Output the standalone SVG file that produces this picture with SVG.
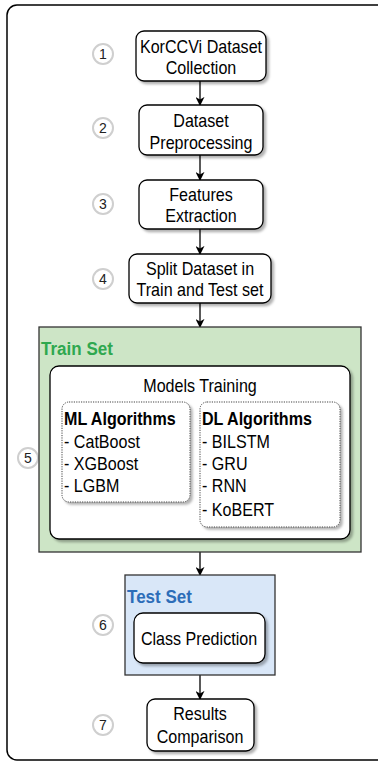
<svg xmlns="http://www.w3.org/2000/svg" width="378" height="761" viewBox="0 0 378 761">
<defs>
<style>
.box{fill:#fff;stroke:#000;stroke-width:1.3;filter:url(#sh)}
.t{font-family:"Liberation Sans",Arial,sans-serif;font-size:17.5px;fill:#000}
.b{font-weight:bold}
.num{font-family:"Liberation Sans",Arial,sans-serif;font-size:14px;fill:#222;text-anchor:middle}
.circ{fill:#fff;stroke:#cfcfcf;stroke-width:2}
.dot{fill:#fff;stroke:#444;stroke-width:1;stroke-dasharray:1.2 1.2;filter:url(#sh)}
.c{text-anchor:middle}
.edge{stroke:#000;stroke-width:1.3;fill:none;marker-end:url(#ar)}
</style>
<filter id="sh" x="-10%" y="-10%" width="130%" height="140%">
<feDropShadow dx="2.5" dy="2.5" stdDeviation="1" flood-color="#000" flood-opacity="0.3"/>
</filter>
<marker id="ar" viewBox="0 0 10 10" refX="9" refY="5" markerWidth="9" markerHeight="9" markerUnits="userSpaceOnUse" orient="auto">
<path d="M0,0 L10,5 L0,10 L3,5 Z" fill="#000"/>
</marker>
</defs>
<rect x="7" y="5" width="385" height="755" rx="10" fill="#fff" stroke="#000" stroke-width="1.5"/>

<g id="connectors">
<line class="edge" x1="200" y1="81" x2="200" y2="105"/>
<line class="edge" x1="200" y1="155" x2="200" y2="180"/>
<line class="edge" x1="200" y1="229" x2="200" y2="254"/>
<line class="edge" x1="200" y1="303" x2="200" y2="327"/>
<line class="edge" x1="200" y1="552" x2="200" y2="575"/>
<line class="edge" x1="200" y1="675" x2="200" y2="699"/>
</g>

<g id="step1">
<circle class="circ" cx="103" cy="54" r="10"/><text class="num" x="103" y="59">1</text>
<rect class="box" x="136" y="31" width="130" height="50" rx="8"/>
<text class="t c" transform="translate(201,53) scale(.92,1)">KorCCVi Dataset</text>
<text class="t c" transform="translate(201,74) scale(.92,1)">Collection</text>
</g>
<g id="step2">
<circle class="circ" cx="103" cy="128" r="10"/><text class="num" x="103" y="133">2</text>
<rect class="box" x="139" y="105" width="124" height="50" rx="8"/>
<text class="t c" transform="translate(201,127) scale(.92,1)">Dataset</text>
<text class="t c" transform="translate(201,149) scale(.92,1)">Preprocessing</text>
</g>
<g id="step3">
<circle class="circ" cx="103" cy="204" r="10"/><text class="num" x="103" y="209">3</text>
<rect class="box" x="139" y="180" width="124" height="49" rx="8"/>
<text class="t c" transform="translate(201,201) scale(.92,1)">Features</text>
<text class="t c" transform="translate(201,222) scale(.92,1)">Extraction</text>
</g>
<g id="step4">
<circle class="circ" cx="103" cy="279" r="10"/><text class="num" x="103" y="284">4</text>
<rect class="box" x="129" y="254" width="142" height="49" rx="8"/>
<text class="t c" transform="translate(200,275) scale(.92,1)">Split Dataset in</text>
<text class="t c" transform="translate(200,296) scale(.92,1)">Train and Test set</text>
</g>
<g id="step5">
<circle class="circ" cx="28" cy="458" r="10"/><text class="num" x="28" y="463">5</text>
<rect x="39" y="327" width="322" height="225" fill="#cde5c6" stroke="#333" stroke-width="1.3"/>
<text class="t b" transform="translate(41,355) scale(.92,1)" style="font-size:18.5px;fill:#2fa84f">Train Set</text>
<rect class="box" x="50" y="366" width="300" height="173" rx="9"/>
<text class="t c" transform="translate(200,392) scale(.92,1)">Models Training</text>
<g id="ml">
<rect class="dot" x="62" y="402" width="128" height="100" rx="7"/>
<text class="t b" transform="translate(64,425) scale(.92,1)">ML Algorithms</text>
<text class="t" transform="translate(64,448) scale(.92,1)">- CatBoost</text>
<text class="t" transform="translate(64,470) scale(.92,1)">- XGBoost</text>
<text class="t" transform="translate(64,492) scale(.92,1)">- LGBM</text>
</g>
<g id="dl">
<rect class="dot" x="200" y="402" width="140" height="125" rx="7"/>
<text class="t b" transform="translate(202,425) scale(.92,1)">DL Algorithms</text>
<text class="t" transform="translate(202,448) scale(.92,1)">- BILSTM</text>
<text class="t" transform="translate(202,470) scale(.92,1)">- GRU</text>
<text class="t" transform="translate(202,492) scale(.92,1)">- RNN</text>
<text class="t" transform="translate(202,516) scale(.92,1)">- KoBERT</text>
</g>
</g>
<g id="step6">
<circle class="circ" cx="103" cy="625" r="10"/><text class="num" x="103" y="630">6</text>
<rect x="125" y="575" width="150" height="100" fill="#d9e7f8" stroke="#333" stroke-width="1.3"/>
<text class="t b" transform="translate(127,603) scale(.92,1)" style="font-size:18.5px;fill:#2c6db8">Test Set</text>
<rect class="box" x="134" y="613" width="131" height="50" rx="9"/>
<text class="t c" transform="translate(199,645) scale(.92,1)">Class Prediction</text>
</g>
<g id="step7">
<circle class="circ" cx="103" cy="725" r="10"/><text class="num" x="103" y="730">7</text>
<rect class="box" x="147" y="699" width="107" height="52" rx="8"/>
<text class="t c" transform="translate(200,720) scale(.92,1)">Results</text>
<text class="t c" transform="translate(200,743) scale(.92,1)">Comparison</text>
</g>
</svg>
